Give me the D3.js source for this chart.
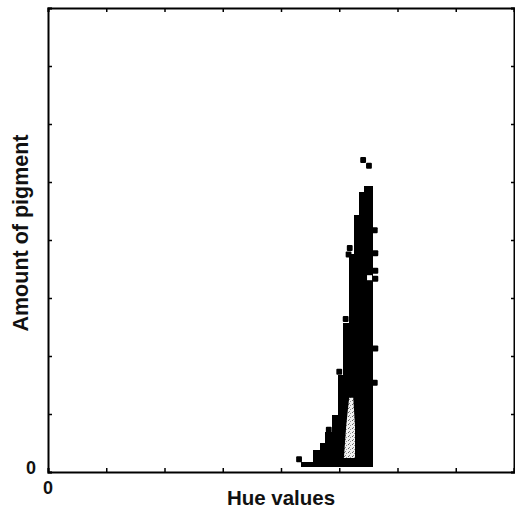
<!DOCTYPE html>
<html>
<head>
<meta charset="utf-8">
<script src="https://cdn.jsdelivr.net/npm/d3@7"></script>
<style>
  html, body { margin: 0; padding: 0; background: #fff; }
  svg { display: block; }
  text { font-family: "Liberation Sans", Arial, Helvetica, sans-serif; fill: #111; }
</style>
</head>
<body>
<svg id="chart" width="515" height="509"></svg>
<script>
// ---- data ----
// histogram columns: hue range start/end and amount (top)
const colHueStart = [4.36, 4.55, 4.67, 4.76, 4.88, 4.98, 5.07, 5.17, 5.27, 5.34, 5.44];
const colHueEnd   = [4.55, 4.67, 4.76, 4.88, 4.98, 5.07, 5.17, 5.27, 5.34, 5.44, 5.56];
const colAmount   = [0.17, 0.38, 0.50, 0.69, 0.98, 1.67, 2.57, 3.76, 4.43, 4.83, 4.93];
const baseAmount  = 0.086;
// isolated points (square markers)
const ptHue    = [4.31, 4.82, 5.00, 5.11, 5.18, 5.16, 5.61, 5.62, 5.62, 5.62, 5.62, 5.61, 5.41, 5.51];
const ptAmount = [0.22, 0.73, 1.73, 2.64, 3.86, 3.75, 4.17, 3.77, 3.47, 3.33, 2.13, 1.54, 5.38, 5.28];
// lighter (stippled) region inside the dense column
const lightHue    = [5.17, 5.24, 5.27, 5.27, 5.08, 5.12];
const lightAmount = [1.28, 1.28, 0.80, 0.24, 0.24, 0.80];
// gap inside the column
const holeHue = [5.52];
const holeAmount = [3.35];
// ticks
const xTicks = [0, 1, 2, 3, 4, 5, 6, 7, 8];
const yTicks = [0, 1, 2, 3, 4, 5, 6, 7, 8];
const xTickLabels = ["0"];
const yTickLabels = ["0"];
const xLabel = "Hue values";
const yLabel = "Amount of pigment";

// ---- drawing ----
const svg = d3.select("#chart");
const x = d3.scaleLinear().domain([0, 8]).range([48, 514]);
const y = d3.scaleLinear().domain([0, 8]).range([472, 8]);

const defs = svg.append("defs");
const pat = defs.append("pattern").attr("id", "stip").attr("width", 4).attr("height", 4)
  .attr("patternUnits", "userSpaceOnUse");
pat.append("rect").attr("width", 4).attr("height", 4).attr("fill", "#f2f2f2");
pat.append("rect").attr("x", 0).attr("y", 0).attr("width", 1).attr("height", 1).attr("fill", "#666");
pat.append("rect").attr("x", 2).attr("y", 1).attr("width", 1).attr("height", 1).attr("fill", "#999");
pat.append("rect").attr("x", 1).attr("y", 3).attr("width", 1).attr("height", 1).attr("fill", "#888");

const cols = colHueStart.map((s, i) => ({ s, e: colHueEnd[i], a: colAmount[i] }));
svg.append("g").attr("shape-rendering", "crispEdges")
  .selectAll("rect").data(cols).join("rect")
  .attr("x", d => Math.floor(x(d.s)))
  .attr("width", d => Math.ceil(x(d.e)) - Math.floor(x(d.s)) + 1)
  .attr("y", d => Math.round(y(d.a)))
  .attr("height", d => Math.round(y(baseAmount)) - Math.round(y(d.a)))
  .attr("fill", "#000");

const pts = ptHue.map((h, i) => ({ h, a: ptAmount[i] }));
const w = x(0.1) - x(0);
svg.append("g").selectAll("rect").data(pts).join("rect")
  .attr("x", d => x(d.h) - w / 2)
  .attr("y", d => y(d.a) - 3)
  .attr("width", w).attr("height", 6)
  .attr("rx", 1)
  .attr("fill", "#000");

const light = lightHue.map((h, i) => [x(h), y(lightAmount[i])]);
svg.append("path").attr("d", d3.line().curve(d3.curveLinearClosed)(light))
  .attr("fill", "url(#stip)");

svg.append("g").selectAll("rect").data(holeHue.map((h, i) => ({ h, a: holeAmount[i] }))).join("rect")
  .attr("x", d => x(d.h) - 2.5).attr("y", d => y(d.a) - 2.5)
  .attr("width", 5).attr("height", 5).attr("fill", "#fff");

// axes (ticks pointing inward)
const gB = svg.append("g").attr("transform", `translate(0,${y(0)})`)
  .call(d3.axisBottom(x).tickValues(xTicks).tickSize(-4).tickFormat(""));
const gL = svg.append("g").attr("transform", `translate(${x(0)},0)`)
  .call(d3.axisLeft(y).tickValues(yTicks).tickSize(-4).tickFormat(""));
const gT = svg.append("g").attr("transform", `translate(0,${y(8)})`)
  .call(d3.axisTop(x).tickValues(xTicks).tickSize(-4).tickFormat(""));
const gR = svg.append("g").attr("transform", `translate(${x(8)},0)`)
  .call(d3.axisRight(y).tickValues(yTicks).tickSize(-3).tickFormat(""));
[gB, gL, gT, gR].forEach(g => {
  g.select(".domain").attr("stroke", "#000").attr("stroke-width", 2);
  g.selectAll(".tick line").attr("stroke", "#000").attr("stroke-width", 1.5);
});

// "0" labels
svg.append("g").selectAll("text").data(xTickLabels).join("text")
  .attr("x", d => x(+d)).attr("y", y(0) + 22)
  .attr("text-anchor", "middle")
  .style("font-size", "18px").style("font-weight", "bold")
  .text(d => d);
svg.append("g").selectAll("text").data(yTickLabels).join("text")
  .attr("x", x(0) - 12).attr("y", d => y(+d) + 2)
  .attr("text-anchor", "end")
  .style("font-size", "18px").style("font-weight", "bold")
  .text(d => d);

svg.append("text").attr("x", 281).attr("y", 505)
  .attr("text-anchor", "middle").style("font-size", "20.5px").style("font-weight", "bold")
  .text(xLabel);
svg.append("text").attr("transform", "translate(28,233) rotate(-90)")
  .attr("text-anchor", "middle").style("font-size", "21.5px").style("font-weight", "bold")
  .text(yLabel);
</script>
</body>
</html>
